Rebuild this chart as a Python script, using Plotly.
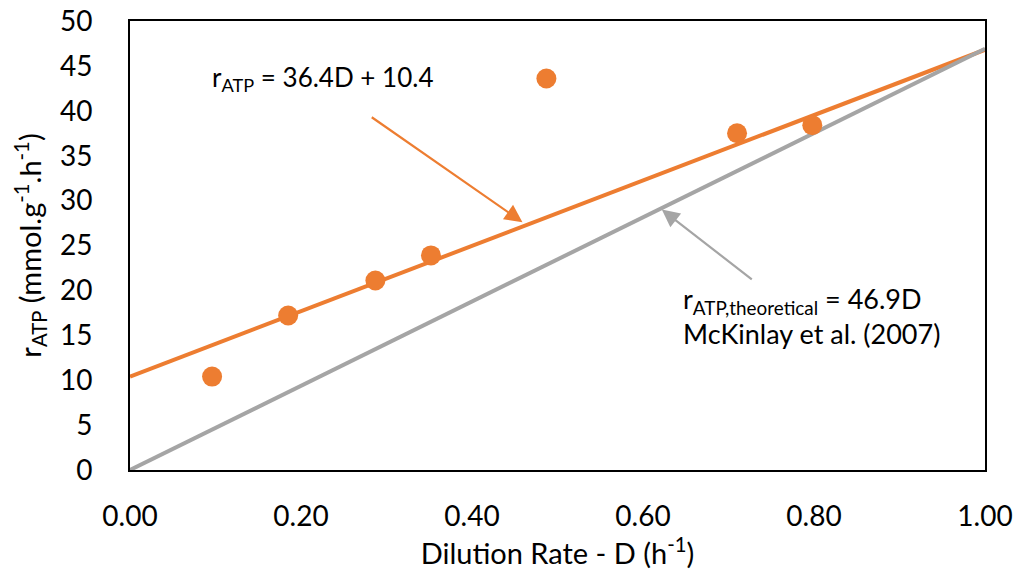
import plotly.graph_objects as go

# Measured ATP production rate vs dilution rate
dilution = [0.096, 0.185, 0.287, 0.352, 0.487, 0.710, 0.798]
r_atp = [10.4, 17.2, 21.1, 23.9, 43.6, 37.5, 38.4]

# Linear fit and theoretical relation
fit_slope, fit_intercept = 36.4, 10.4
theo_slope = 46.9
line_x = [0.0, 1.0]

ORANGE = "#ED7D31"
GRAY = "#A5A5A5"
FONT = "Lato"

fig = go.Figure()

fig.add_trace(go.Scatter(
    x=line_x, y=[fit_intercept + fit_slope * x for x in line_x],
    mode="lines", line=dict(color=ORANGE, width=4), hoverinfo="skip"))
fig.add_trace(go.Scatter(
    x=line_x, y=[theo_slope * x for x in line_x],
    mode="lines", line=dict(color=GRAY, width=4), hoverinfo="skip"))
fig.add_trace(go.Scatter(
    x=dilution, y=r_atp, mode="markers",
    marker=dict(color=ORANGE, size=20, line=dict(width=0))))

# Equation labels
fig.add_annotation(x=0.093, y=43.6, xref="x", yref="y", showarrow=False,
                   xanchor="left", yanchor="middle",
                   text="r<sub>ATP</sub> = 36.4D + 10.4",
                   font=dict(family=FONT, size=26, color="black"))
fig.add_annotation(x=0.645, y=17.2, xref="x", yref="y", showarrow=False,
                   xanchor="left", yanchor="middle", align="left",
                   text="r<sub>ATP,theoretical</sub> = 46.9D<br>McKinlay et al. (2007)",
                   font=dict(family=FONT, size=27, color="black"))

# Pointer arrows
fig.add_annotation(x=0.459, y=27.6, ax=0.281, ay=39.4,
                   xref="x", yref="y", axref="x", ayref="y",
                   showarrow=True, arrowhead=2, arrowsize=1.6, arrowwidth=2.2,
                   arrowcolor=ORANGE, standoff=0, text="")
fig.add_annotation(x=0.622, y=29.0, ax=0.729, ay=21.1,
                   xref="x", yref="y", axref="x", ayref="y",
                   showarrow=True, arrowhead=2, arrowsize=1.6, arrowwidth=2.2,
                   arrowcolor=GRAY, standoff=0, text="")

fig.update_layout(
    width=1016, height=574,
    margin=dict(l=130, r=31, t=21, b=104),
    paper_bgcolor="white", plot_bgcolor="white",
    showlegend=False,
    font=dict(family=FONT, size=28, color="black"),
)
fig.update_xaxes(
    range=[0, 1], tickvals=[0, 0.2, 0.4, 0.6, 0.8, 1.0], tickformat=".2f",
    showgrid=False, zeroline=False, showline=True, linecolor="black",
    linewidth=2, mirror=True, ticks="", ticklabelstandoff=20,
    automargin=False,
    title=dict(text="Dilution Rate - D (h<sup>-1</sup>)", standoff=10,
               font=dict(family=FONT, size=29)),
    tickfont=dict(family=FONT, size=28),
)
fig.update_yaxes(
    range=[0, 50], tickvals=list(range(0, 51, 5)),
    showgrid=False, zeroline=False, showline=True, linecolor="black",
    linewidth=2, mirror=True, ticks="", ticklabelstandoff=30,
    automargin=False,
    title=dict(text="r<sub>ATP</sub> (mmol.g<sup>-1</sup>.h<sup>-1</sup>)",
               standoff=10, font=dict(family=FONT, size=29)),
    tickfont=dict(family=FONT, size=28),
)

fig.write_html("out.html")
